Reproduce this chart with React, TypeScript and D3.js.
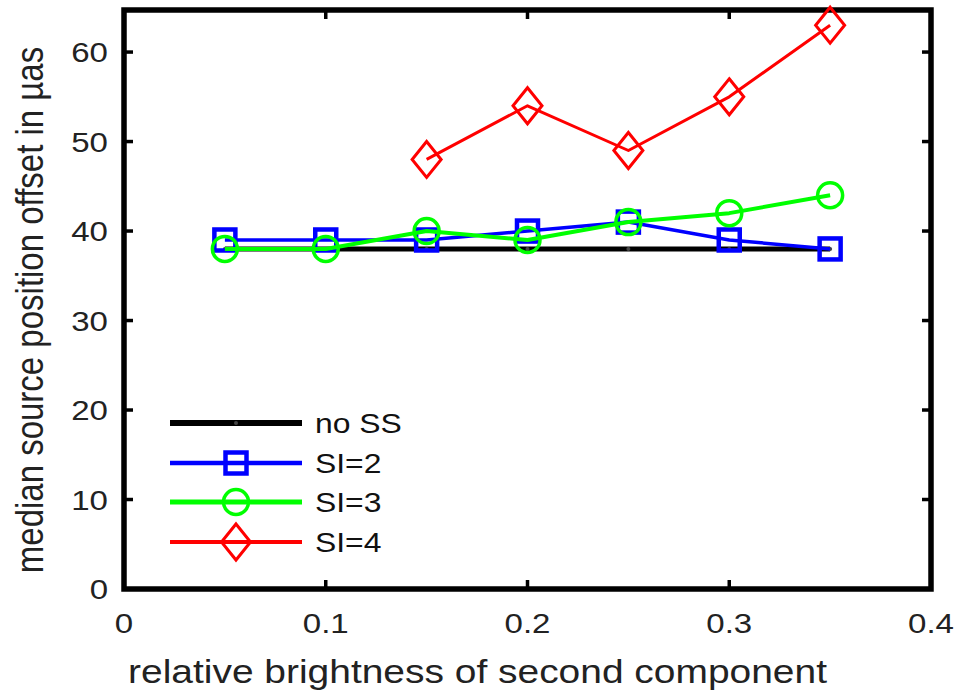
import React from "react";
import * as d3 from "d3";

const xTicks = [0, 0.1, 0.2, 0.3, 0.4];
const yTicks = [0, 10, 20, 30, 40, 50, 60];
const xs = [0.05, 0.1, 0.15, 0.2, 0.25, 0.3, 0.35];
const noSS = [38, 38, 38, 38, 38, 38, 38];
const si2 = [39, 39, 39, 40, 41, 39, 38];
const si3 = [38, 38, 40, 39, 41, 42, 44];
const xsSI4 = [0.15, 0.2, 0.25, 0.3, 0.35];
const si4 = [48, 54, 49, 55, 63];
const legendLabels = ["no SS", "SI=2", "SI=3", "SI=4"];

const W = 958, H = 693;
const L = 124, R = 931, T = 10, B = 589;
const SX = 1.18;
const FONT = "'Liberation Sans', Arial, sans-serif";

type Marker = "dot" | "square" | "circle" | "diamond";

function MarkerShape({ kind, x, y, color }: { kind: Marker; x: number; y: number; color: string }) {
  if (kind === "dot") return <circle cx={x} cy={y} r={2} fill="#444" />;
  if (kind === "square")
    return <rect x={x - 10.5} y={y - 10.5} width={21} height={21} fill="none" stroke={color} strokeWidth={4.5} />;
  if (kind === "circle") return <circle cx={x} cy={y} r={12.5} fill="none" stroke={color} strokeWidth={3.5} />;
  const w = 14.5, h = 18;
  return (
    <path
      d={`M${x},${y - h}L${x + w},${y}L${x},${y + h}L${x - w},${y}Z`}
      fill="none"
      stroke={color}
      strokeWidth={3}
      strokeLinejoin="miter"
    />
  );
}

export default function App() {
  const x = d3.scaleLinear().domain([0, 0.4]).range([L, R]);
  const y = d3.scaleLinear().domain([0, 64.7]).range([B, T]);
  const line = d3
    .line<[number, number]>()
    .x((d) => x(d[0]))
    .y((d) => y(d[1]));

  const series: { xv: number[]; yv: number[]; color: string; width: number; marker: Marker }[] = [
    { xv: xs, yv: noSS, color: "#000000", width: 5, marker: "dot" },
    { xv: xs, yv: si2, color: "#0000ff", width: 3.5, marker: "square" },
    { xv: xs, yv: si3, color: "#00ff00", width: 4, marker: "circle" },
    { xv: xsSI4, yv: si4, color: "#ff0000", width: 3, marker: "diamond" },
  ];

  const legendY = [423, 463, 502, 542];

  return (
    <svg
      width={W}
      height={H}
      style={{ position: "absolute", left: 0, top: 0, background: "#fff" }}
      fontFamily={FONT}
    >
      <rect x={0} y={0} width={W} height={H} fill="#fff" />
      {/* ticks */}
      {xTicks.map((t) => (
        <g key={"xt" + t}>
          <line x1={x(t)} x2={x(t)} y1={B} y2={B - 9} stroke="#000" strokeWidth={3.5} />
          <line x1={x(t)} x2={x(t)} y1={T} y2={T + 9} stroke="#000" strokeWidth={3.5} />
          <text
            transform={`translate(${x(t)},633) scale(${SX},1)`}
            textAnchor="middle"
            fontSize={28}
            fill="#222"
          >
            {String(t)}
          </text>
        </g>
      ))}
      {yTicks.map((t) => (
        <g key={"yt" + t}>
          <line x1={L} x2={L + 9} y1={y(t)} y2={y(t)} stroke="#000" strokeWidth={3.5} />
          <line x1={R} x2={R - 9} y1={y(t)} y2={y(t)} stroke="#000" strokeWidth={3.5} />
          <text
            transform={`translate(108,${y(t) + 10}) scale(${SX},1)`}
            textAnchor="end"
            fontSize={28}
            fill="#222"
          >
            {String(t)}
          </text>
        </g>
      ))}
      {/* frame */}
      <rect x={L} y={T} width={R - L} height={B - T} fill="none" stroke="#000" strokeWidth={5.5} />

      {/* series */}
      {series.map((s, i) => {
        const pts = s.xv.map((xv, j) => [xv, s.yv[j]] as [number, number]);
        return (
          <g key={"s" + i}>
            <path d={line(pts) || ""} fill="none" stroke={s.color} strokeWidth={s.width} strokeLinejoin="round" />
            {pts.map((p, j) => (
              <MarkerShape key={j} kind={s.marker} x={x(p[0])} y={y(p[1])} color={s.color} />
            ))}
          </g>
        );
      })}

      {/* legend */}
      {series.map((s, i) => (
        <g key={"lg" + i}>
          <line x1={170} x2={302} y1={legendY[i]} y2={legendY[i]} stroke={s.color} strokeWidth={s.width + 1} />
          <MarkerShape kind={s.marker} x={236} y={legendY[i]} color={s.color} />
          <text
            transform={`translate(315,${legendY[i] + 10}) scale(${SX},1)`}
            fontSize={27}
            fill="#111"
          >
            {legendLabels[i]}
          </text>
        </g>
      ))}

      {/* axis labels */}
      <text
        transform={`translate(${(L + R) / 2 - 50},683) scale(${SX},1)`}
        textAnchor="middle"
        fontSize={33}
        fill="#222"
      >
        relative brightness of second component
      </text>
      <text
        transform={`translate(43,310) scale(${SX},1) rotate(-90)`}
        textAnchor="middle"
        fontSize={33}
        fill="#222"
      >
        median source position offset in µas
      </text>
    </svg>
  );
}
